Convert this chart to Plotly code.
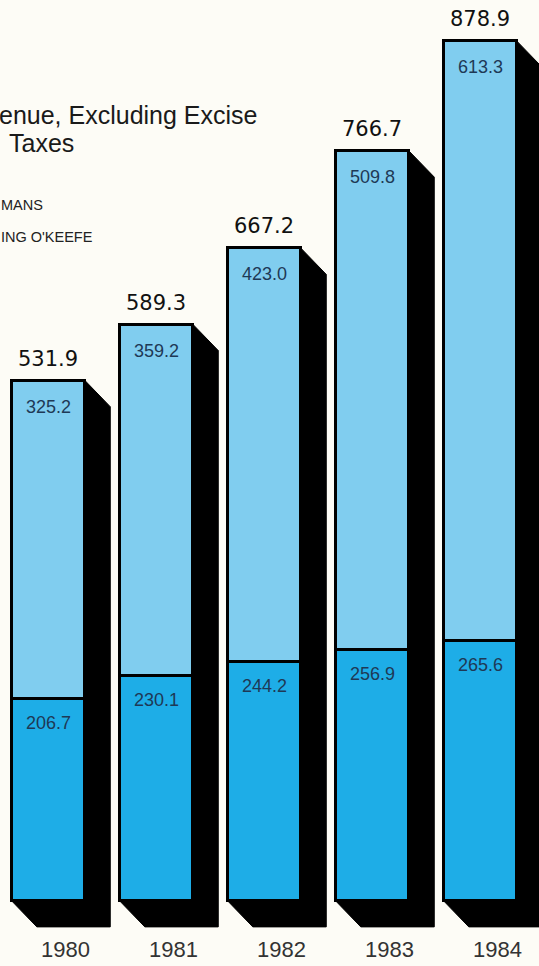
import plotly.graph_objects as go

years = ["1980", "1981", "1982", "1983", "1984"]
bottom_vals = [206.7, 230.1, 244.2, 256.9, 265.6]
top_vals = [325.2, 359.2, 423.0, 509.8, 613.3]
totals = [531.9, 589.3, 667.2, 766.7, 878.9]

LIGHT = "#80cdef"
DARK = "#1eade7"
BG = "#fdfcf6"
INK = "#1e3956"

xs = list(range(len(years)))
W = 0.68      # bar width (x units)
DX = 0.232    # extrusion depth in x units
DY = 26.5     # extrusion depth in y units
XR = [-0.449, 4.542]
YR = [-66.5, 921.3]

fig = go.Figure()

# black extruded block behind each bar (derived from data)
for x, t in zip(xs, totals):
    x0, x1 = x - W / 2, x + W / 2
    px = [x0, x1, x1 + DX, x1 + DX, x0 + DX, x0, x0]
    py = [t, t, t - DY, -DY, -DY, 0, t]
    fig.add_trace(go.Scatter(x=px, y=py, mode="lines", fill="toself",
                             fillcolor="black", line=dict(color="black", width=1),
                             hoverinfo="skip", showlegend=False))

fig.add_trace(go.Bar(x=xs, y=bottom_vals, width=W, xaxis="x2", yaxis="y2",
                     marker=dict(color=DARK, line=dict(color="black", width=3)), showlegend=False))
fig.add_trace(go.Bar(x=xs, y=top_vals, width=W, xaxis="x2", yaxis="y2",
                     marker=dict(color=LIGHT, line=dict(color="black", width=3)), showlegend=False))

ann = []
for x, b, tv, tot, yr in zip(xs, bottom_vals, top_vals, totals, years):
    ann.append(dict(x=x, y=b, text=f"{b:.1f}", showarrow=False, yanchor="middle", yshift=-24,
                    font=dict(size=18, color=INK, family="Liberation Sans")))
    ann.append(dict(x=x, y=tot, text=f"{tv:.1f}", showarrow=False, yanchor="middle", yshift=-26,
                    font=dict(size=18, color=INK, family="Liberation Sans")))
    ann.append(dict(x=x, y=tot, text=f"{tot:.1f}", showarrow=False, yanchor="middle", yshift=22,
                    font=dict(size=21, color="#111", family="DejaVu Sans")))
    ann.append(dict(x=x + 0.16, y=0, text=yr, showarrow=False, yanchor="middle", yshift=-49,
                    font=dict(size=22, color="#333", family="Liberation Sans")))

# title and legend fragments (paper coords)
ann += [
    dict(xref="paper", yref="paper", x=-0.005, y=1 - 115 / 966, text="enue, Excluding Excise",
         xanchor="left", yanchor="middle", showarrow=False, font=dict(size=25, color="#1a1a1a", family="Liberation Sans")),
    dict(xref="paper", yref="paper", x=7 / 539, y=1 - 143 / 966, text="Taxes",
         xanchor="left", yanchor="middle", showarrow=False, font=dict(size=25, color="#1a1a1a", family="Liberation Sans")),
    dict(xref="paper", yref="paper", x=-0.002, y=1 - 205 / 966, text="MANS",
         xanchor="left", yanchor="middle", showarrow=False, font=dict(size=14.5, color="#222", family="Liberation Sans")),
    dict(xref="paper", yref="paper", x=-0.002, y=1 - 237 / 966, text="ING O'KEEFE",
         xanchor="left", yanchor="middle", showarrow=False, font=dict(size=14.5, color="#222", family="Liberation Sans")),
]

fig.update_layout(
    width=539, height=966, barmode="stack", bargap=0,
    margin=dict(l=0, r=0, t=0, b=0),
    paper_bgcolor=BG, plot_bgcolor=BG,
    xaxis=dict(range=XR, visible=False, fixedrange=True),
    yaxis=dict(range=YR, visible=False, fixedrange=True),
    xaxis2=dict(range=XR, visible=False, fixedrange=True, overlaying="x"),
    yaxis2=dict(range=YR, visible=False, fixedrange=True, overlaying="y"),
    annotations=ann,
)

fig.write_html("out.html", config={"displayModeBar": False},
               post_script="document.body.style.margin='0px';document.body.style.background='%s';" % BG)
